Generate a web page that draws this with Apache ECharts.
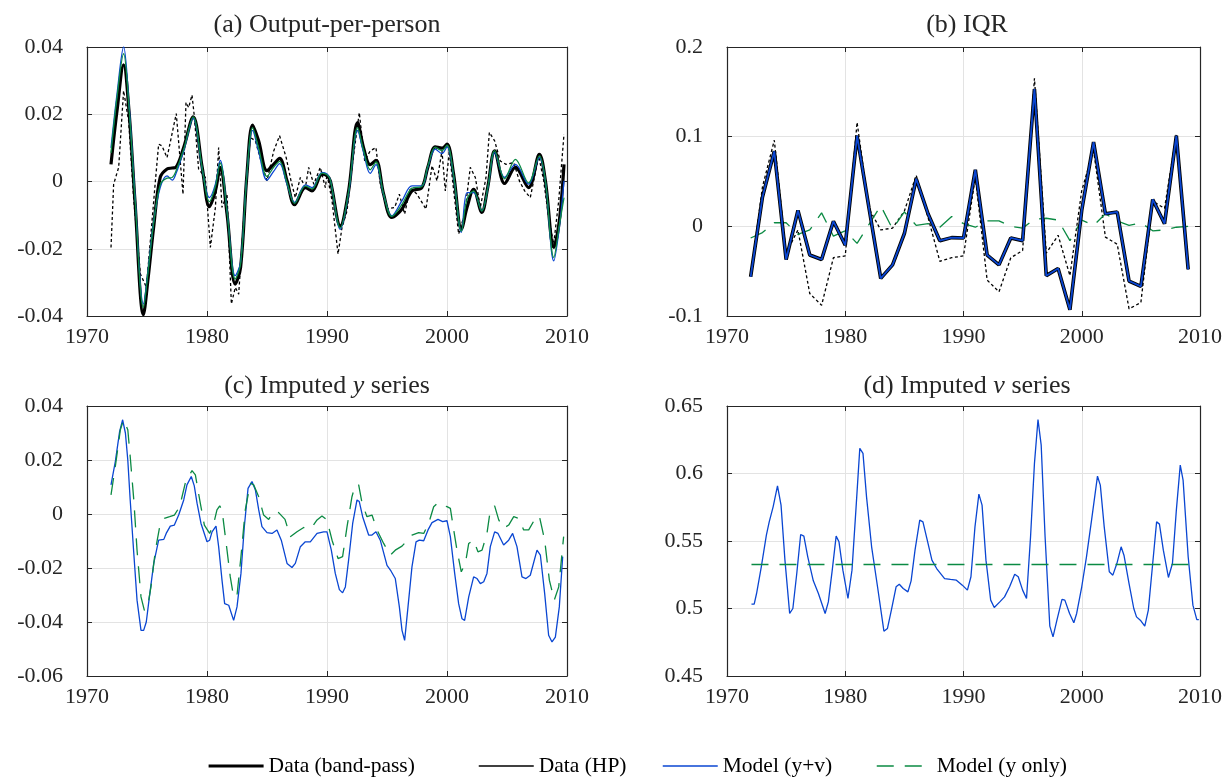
<!DOCTYPE html>
<html>
<head>
<meta charset="utf-8">
<script src="https://cdn.jsdelivr.net/npm/echarts@6/dist/echarts.min.js"></script>
<style>html,body{margin:0;padding:0;background:#fff}#c{width:1225px;height:779px}</style>
</head>
<body>
<div id="c"></div>
<script>
// ---------- Panel (a): Output-per-person (quarterly, read at turning points) ----------
const aYears = [1972.0,1972.5,1973.05,1973.5,1974.0,1974.7,1975.1,1975.55,1976.1,1976.67,1977.1,1977.4,1978.05,1978.85,1979.6,1980.2,1980.7,1981.1,1981.67,1982.35,1982.8,1983.33,1983.8,1984.3,1985.0,1985.55,1986.05,1986.67,1987.3,1988.2,1988.75,1989.6,1990.0,1990.28,1991.11,1991.8,1992.55,1993.05,1993.6,1994.08,1994.72,1995.4,1996.25,1997.08,1997.9,1998.4,1999.03,1999.58,2000.0,2000.55,2001.2,2001.67,2002.22,2002.9,2003.39,2003.97,2004.8,2005.7,2006.8,2007.7,2008.2,2008.9,2009.36,2009.75];
const aBandPass = [0.0051,0.021,0.0347,0.021,-0.006,-0.0396,-0.0285,-0.0137,0.0012,0.0037,0.0040,0.0042,0.010,0.0192,0.0042,-0.0075,-0.0028,0.0042,-0.0097,-0.0305,-0.0255,0.0022,0.0168,0.0121,0.0032,0.0051,0.0069,0.0002,-0.0069,-0.0018,-0.0028,0.0022,0.0017,0.0002,-0.0132,-0.0028,0.0175,0.010,0.005,0.0063,-0.0038,-0.0107,-0.0082,-0.0028,-0.0018,0.0042,0.0103,0.0099,0.0111,0.0022,-0.0142,-0.0077,-0.0023,-0.0092,-0.0018,0.0091,-0.0006,0.0042,-0.0018,0.0081,0.0002,-0.0196,-0.0117,0.0051];
const aModelYV = [0.010,0.026,0.040,0.023,-0.004,-0.0364,-0.026,-0.012,-0.0018,0.0017,0.0004,0.0022,0.009,0.0188,0.0037,-0.0048,-0.0008,0.0063,-0.0087,-0.028,-0.024,0.0022,0.0152,0.009,0.0004,0.003,0.0053,-0.0008,-0.0062,-0.001,-0.0018,0.0027,0.0022,0.0005,-0.0142,-0.0035,0.0152,0.0086,0.0024,0.005,-0.004,-0.0102,-0.0057,-0.0013,-0.0013,0.0042,0.0096,0.0083,0.0103,0.0015,-0.0151,-0.0033,-0.0033,-0.0087,-0.0022,0.0086,0.0012,0.0051,-0.0008,0.0071,0.0,-0.0236,-0.0137,0.0002];
const aModelY = [0.0085,0.025,0.038,0.022,-0.005,-0.0375,-0.0265,-0.0125,-0.001,0.001,0.0012,0.003,0.0095,0.0192,0.004,-0.006,-0.0015,0.0055,-0.009,-0.029,-0.0245,0.0022,0.016,0.010,0.0015,0.0042,0.006,-0.0003,-0.0065,-0.0014,-0.0022,0.0025,0.002,0.0004,-0.0138,-0.003,0.016,0.0093,0.0035,0.0058,-0.0038,-0.0104,-0.0068,-0.002,-0.0015,0.0045,0.0102,0.0092,0.0108,0.0018,-0.0148,-0.0052,-0.0028,-0.0088,-0.002,0.0092,0.0008,0.0066,-0.0004,0.0076,0.0002,-0.0226,-0.013,-0.0048];
const aHPYears = [1972.0,1972.22,1972.64,1973.05,1973.47,1973.9,1974.45,1974.95,1975.28,1975.7,1975.97,1976.25,1976.67,1977.44,1978.0,1978.25,1978.47,1978.75,1978.94,1979.3,1979.86,1980.28,1980.7,1980.97,1981.25,1981.67,1982.03,1982.36,1982.64,1983.05,1983.6,1984.03,1984.58,1985.0,1985.56,1986.05,1986.6,1987.0,1987.36,1987.78,1988.2,1988.47,1988.9,1989.44,1989.86,1990.0,1990.42,1990.92,1991.25,1991.67,1992.08,1992.69,1993.14,1993.6,1994.08,1994.44,1995.0,1995.64,1996.03,1996.47,1996.94,1997.5,1998.25,1998.75,1999.17,1999.58,1999.86,2000.19,2000.56,2000.97,2001.47,2001.94,2002.36,2002.78,2003.25,2003.53,2003.97,2004.44,2004.92,2005.56,2006.03,2006.47,2006.94,2007.64,2008.06,2008.47,2008.89,2009.31,2009.75];
const aHP = [-0.0196,-0.0008,0.0042,0.027,0.018,-0.0057,-0.0275,-0.0315,-0.0176,0.0002,0.0111,0.0106,0.0071,0.0202,-0.0038,0.0235,0.022,0.0257,0.0195,0.0037,0.0012,-0.0196,-0.0077,0.0101,-0.0077,-0.0038,-0.0364,-0.0315,-0.0335,-0.0117,0.0131,0.0121,0.0051,0.0002,0.0091,0.0136,0.0071,0.0002,-0.0048,0.0012,-0.0018,0.0042,-0.0008,0.0042,-0.0018,0.0022,-0.0057,-0.0216,-0.0137,-0.0087,0.0042,0.0205,0.0061,0.0091,0.0101,-0.0008,-0.0082,-0.0077,-0.0038,-0.0097,-0.0018,-0.0038,-0.0082,0.0047,0.0002,0.0091,-0.0028,0.0091,-0.0028,-0.0156,-0.0097,0.0042,0.0012,-0.0077,0.0012,0.0146,0.0121,0.0061,0.0051,0.0056,0.0002,-0.0028,-0.0048,0.0076,0.0002,-0.0107,-0.0186,-0.0057,0.0141];

// ---------- Panel (b): IQR (annual) ----------
const bYears = [1972,1973,1974,1975,1976,1977,1978,1979,1980,1981,1982,1983,1984,1985,1986,1987,1988,1989,1990,1991,1992,1993,1994,1995,1996,1997,1998,1999,2000,2001,2002,2003,2004,2005,2006,2007,2008,2009];
const bBandPass = [-0.0563,0.0326,0.0837,-0.037,0.0178,-0.032,-0.037,0.0056,-0.021,0.101,0.021,-0.058,-0.043,-0.008,0.053,0.014,-0.016,-0.0126,-0.013,0.063,-0.032,-0.043,-0.013,-0.016,0.153,-0.055,-0.047,-0.093,0.018,0.094,0.014,0.016,-0.061,-0.067,0.030,0.003,0.101,-0.048];
const bModelYV = [-0.0563,0.0326,0.0837,-0.037,0.0178,-0.032,-0.037,0.0056,-0.021,0.101,0.021,-0.058,-0.043,-0.008,0.053,0.014,-0.016,-0.0126,-0.013,0.063,-0.032,-0.043,-0.013,-0.016,0.153,-0.055,-0.047,-0.093,0.018,0.094,0.014,0.016,-0.061,-0.067,0.030,0.003,0.101,-0.048];
const bHP = [-0.056,0.044,0.096,-0.03,-0.004,-0.075,-0.088,-0.035,-0.033,0.116,0.02,-0.004,-0.002,0.017,0.057,0.01,-0.039,-0.035,-0.033,0.055,-0.06,-0.073,-0.035,-0.027,0.165,-0.03,-0.01,-0.055,0.04,0.085,-0.012,-0.02,-0.092,-0.085,0.028,0.02,0.103,-0.048];
const bModelY = [-0.013,-0.007,0.004,0.004,-0.009,-0.004,0.015,-0.011,-0.005,-0.019,0.002,0.023,-0.003,0.016,0.001,0.003,-0.001,0.011,0.003,-0.001,0.006,0.006,0.0,-0.002,0.008,0.009,0.007,-0.016,0.007,0.001,0.014,0.006,0.001,0.004,-0.005,-0.004,-0.001,0.0];

// ---------- Panel (c): Imputed y series ----------
const cYVYears = [1972.0,1972.36,1972.72,1972.97,1973.2,1973.4,1973.6,1973.9,1974.17,1974.5,1974.72,1974.94,1975.2,1975.56,1975.97,1976.4,1976.6,1976.94,1977.28,1977.64,1978.06,1978.33,1978.69,1978.94,1979.17,1979.5,1980.0,1980.22,1980.42,1980.75,1980.97,1981.25,1981.47,1981.81,1982.22,1982.5,1982.83,1983.11,1983.42,1983.75,1984.03,1984.31,1984.58,1985.0,1985.42,1985.83,1986.19,1986.67,1987.08,1987.36,1987.78,1988.19,1988.61,1989.17,1989.72,1990.0,1990.36,1990.69,1991.03,1991.3,1991.53,1991.8,1992.14,1992.5,1992.69,1992.97,1993.47,1993.75,1994.08,1994.44,1995.0,1995.33,1995.69,1996.03,1996.25,1996.47,1996.75,1997.08,1997.42,1997.69,1998.06,1998.42,1998.75,1999.25,1999.64,2000.0,2000.28,2000.64,2000.97,2001.25,2001.47,2001.81,2002.22,2002.5,2002.78,2003.06,2003.33,2003.61,2003.97,2004.25,2004.72,2005.14,2005.47,2005.83,2006.25,2006.58,2006.94,2007.5,2007.78,2008.14,2008.47,2008.75,2009.03,2009.36,2009.64];
const cModelYV = [0.0108,0.0194,0.0306,0.0349,0.030,0.020,0.0052,-0.0146,-0.0319,-0.0431,-0.0431,-0.040,-0.0307,-0.0183,-0.0097,-0.0094,-0.0072,-0.0045,-0.0041,-0.0004,0.0052,0.0108,0.0139,0.0104,0.004,-0.0035,-0.0103,-0.0097,-0.0066,-0.0045,-0.0121,-0.0245,-0.0332,-0.0338,-0.0394,-0.0344,-0.022,-0.0047,0.0095,0.012,0.0089,0.0015,-0.0047,-0.0069,-0.0072,-0.0059,-0.0097,-0.0183,-0.0198,-0.0183,-0.0121,-0.0103,-0.0103,-0.0072,-0.0066,-0.0066,-0.0134,-0.022,-0.028,-0.0292,-0.027,-0.0171,-0.0035,0.0052,0.0046,-0.001,-0.0078,-0.0078,-0.0066,-0.0097,-0.019,-0.0211,-0.0239,-0.0344,-0.0431,-0.0468,-0.0344,-0.0196,-0.0103,-0.0097,-0.0099,-0.0059,-0.0032,-0.002,-0.0028,-0.0025,-0.0084,-0.022,-0.0332,-0.0388,-0.0394,-0.0307,-0.0233,-0.0239,-0.0258,-0.0251,-0.022,-0.0121,-0.0066,-0.0072,-0.0115,-0.0097,-0.0072,-0.0121,-0.0233,-0.0239,-0.0227,-0.0134,-0.0152,-0.0295,-0.0449,-0.0474,-0.0456,-0.0344,-0.0158];
const cYYears = [1972.0,1972.36,1972.78,1973.05,1973.4,1973.6,1973.9,1974.17,1974.5,1974.78,1975.05,1975.33,1975.7,1976.06,1976.44,1976.89,1977.28,1977.72,1978.19,1978.75,1979.03,1979.44,1979.78,1980.22,1980.56,1980.83,1981.06,1981.25,1981.6,1981.94,1982.22,1982.5,1982.83,1983.19,1983.61,1983.89,1984.31,1984.72,1985.14,1985.56,1985.97,1986.5,1986.94,1987.5,1988.06,1988.67,1989.17,1989.58,1990.0,1990.42,1990.92,1991.3,1991.67,1992.08,1992.36,1992.64,1992.92,1993.33,1993.75,1994.17,1994.72,1995.28,1995.69,1996.25,1997.08,1997.64,1998.06,1998.47,1998.89,1999.25,1999.58,2000.0,2000.28,2000.56,2000.83,2001.19,2001.53,2001.81,2002.22,2002.58,2002.92,2003.33,2003.61,2003.97,2004.31,2004.72,2005.14,2005.56,2005.97,2006.39,2006.81,2007.36,2007.69,2008.14,2008.53,2008.94,2009.31,2009.72];
const cModelY = [0.0071,0.0176,0.0312,0.0349,0.0312,0.0213,0.0052,-0.0134,-0.0307,-0.0357,-0.0344,-0.027,-0.0134,-0.0047,-0.0016,-0.001,-0.0004,0.0027,0.0114,0.0161,0.0145,0.004,-0.0041,-0.0072,-0.0035,0.0015,0.003,0.0015,-0.0109,-0.0233,-0.0307,-0.0301,-0.0158,0.0015,0.0114,0.0108,0.0064,-0.0004,-0.002,0.0009,0.0005,-0.002,-0.0084,-0.0066,-0.005,-0.0053,-0.0022,-0.0007,-0.0022,-0.0097,-0.0165,-0.0158,-0.0047,0.0064,0.0108,0.0108,0.004,-0.001,-0.0004,-0.0059,-0.0109,-0.0152,-0.0134,-0.0119,-0.0078,-0.0069,-0.0072,-0.0035,0.0027,0.0042,0.0033,0.0027,0.0021,-0.0059,-0.0134,-0.0214,-0.0183,-0.0109,-0.0097,-0.014,-0.0134,-0.0072,0.0015,0.003,-0.0022,-0.0053,-0.0041,-0.001,-0.0016,-0.0059,-0.0059,-0.0016,-0.0007,-0.0097,-0.0245,-0.0319,-0.027,-0.0084];

// ---------- Panel (d): Imputed v series ----------
const dYVYears = [1972.07,1972.3,1972.5,1972.9,1973.33,1973.57,1973.9,1974.27,1974.57,1974.9,1975.3,1975.57,1975.9,1976.23,1976.5,1976.83,1977.3,1977.73,1978.3,1978.57,1978.9,1979.23,1979.47,1979.8,1980.23,1980.57,1980.9,1981.23,1981.5,1981.8,1982.23,1982.73,1983.27,1983.57,1983.9,1984.3,1984.57,1984.9,1985.3,1985.57,1985.9,1986.3,1986.57,1986.9,1987.33,1987.73,1988.4,1988.9,1989.4,1989.9,1990.33,1990.63,1990.97,1991.3,1991.57,1991.9,1992.3,1992.6,1993.07,1993.47,1993.9,1994.33,1994.63,1995.0,1995.33,1995.67,1996.0,1996.3,1996.57,1996.9,1997.3,1997.57,1997.9,1998.33,1998.57,1998.97,1999.33,1999.57,2000.0,2000.4,2000.83,2001.33,2001.57,2001.9,2002.33,2002.63,2002.97,2003.33,2003.57,2004.0,2004.4,2004.63,2005.0,2005.33,2005.63,2006.0,2006.33,2006.57,2006.9,2007.33,2007.67,2008.0,2008.33,2008.57,2009.0,2009.4,2009.73,2009.9];
const dModelYV = [0.5032,0.5032,0.5111,0.5309,0.5543,0.5642,0.5753,0.5909,0.5766,0.5358,0.4963,0.500,0.5259,0.5548,0.5536,0.5383,0.5205,0.5111,0.4963,0.5049,0.5284,0.5536,0.5494,0.5284,0.5074,0.5284,0.5729,0.6186,0.6149,0.5827,0.5457,0.5161,0.4832,0.4852,0.4988,0.5161,0.518,0.5148,0.5123,0.5205,0.5432,0.5655,0.5642,0.5519,0.5358,0.5296,0.5222,0.5215,0.521,0.5173,0.5136,0.5235,0.5605,0.5847,0.5766,0.5358,0.5062,0.5007,0.5049,0.5086,0.5161,0.5254,0.5235,0.5136,0.5074,0.5531,0.6075,0.640,0.621,0.5531,0.4869,0.479,0.4914,0.5067,0.5062,0.4963,0.4894,0.4963,0.5161,0.5383,0.5655,0.598,0.5914,0.5605,0.5272,0.5247,0.5333,0.5457,0.5395,0.5185,0.500,0.4938,0.4909,0.4869,0.4988,0.5333,0.5642,0.5625,0.5432,0.523,0.5333,0.5729,0.6062,0.5951,0.5383,0.5025,0.4918,0.4918];
const dYYears = [1972.07,2009.9];
const dModelY = [0.5326,0.5326];

// ---------- Labels ----------
const seriesNames = ['Data (band-pass)','Data (HP)','Model (y+v)','Model (y only)'];
const panelTitles = ['(a) Output-per-person','(b) IQR','(c) Imputed {i|y} series','(d) Imputed {i|v} series'];

// ---------- Styling ----------
const FONT = 'Liberation Serif';
const INK = '#262626';
const BLUE = '#0a46d2';
const GREEN = '#0b8a43';
const pairs = (xs, ys) => xs.map((x, i) => [x, ys[i]]);

const grids = [
  {left: 87, top: 47, width: 480, height: 269},
  {left: 727, top: 47, width: 480, height: 269},
  {left: 87, top: 406, width: 480, height: 270},
  {left: 727, top: 406, width: 480, height: 270}
];
const yRanges = [[-0.04, 0.04, 0.02], [-0.1, 0.2, 0.1], [-0.06, 0.04, 0.02], [0.45, 0.65, 0.05]];

const xAxes = [], yAxes = [];
const axisLineStyle = {show: true, onZero: false, lineStyle: {color: INK, width: 1.2}};
const tickStyle = {show: true, inside: true, length: 5, lineStyle: {color: INK, width: 1}};
grids.forEach((g, i) => {
  const common = {type: 'value', gridIndex: i, min: 1970, max: 2010, interval: 10,
    axisLine: axisLineStyle, axisTick: tickStyle};
  xAxes.push(Object.assign({}, common, {position: 'bottom',
    axisLabel: {show: true, margin: 10, fontFamily: FONT, fontSize: 22, color: INK, formatter: v => String(v)},
    splitLine: {show: true, lineStyle: {color: '#e3e3e3', width: 1}}}));
  xAxes.push(Object.assign({}, common, {position: 'top', axisLabel: {show: false}, splitLine: {show: false}}));
  const [mn, mx, iv] = yRanges[i];
  const yc = {type: 'value', gridIndex: i, min: mn, max: mx, interval: iv,
    axisLine: axisLineStyle, axisTick: tickStyle};
  yAxes.push(Object.assign({}, yc, {position: 'left',
    axisLabel: {show: true, margin: 24, fontFamily: FONT, fontSize: 22, color: INK},
    splitLine: {show: true, lineStyle: {color: '#e3e3e3', width: 1}}}));
  yAxes.push(Object.assign({}, yc, {position: 'right', axisLabel: {show: false}, splitLine: {show: false}}));
});

function line(name, panel, data, style, smooth) {
  return {type: 'line', name, xAxisIndex: panel * 2, yAxisIndex: panel * 2, data,
    showSymbol: false, symbol: 'none', smooth: smooth || false, silent: true, animation: false,
    color: style.color, itemStyle: {color: style.color},
    lineStyle: style, emphasis: {disabled: true}};
}
const sBand = {color: '#000', width: 3.2};
const sHP = {color: '#000', width: 1.3, type: [3, 2.5]};
const sBlue = {color: BLUE, width: 1.3};
const sGreenSolid = {color: GREEN, width: 1.3};
const sGreenDash = {color: GREEN, width: 1.3, type: [17, 11]};

const series = [
  // (a)
  line(seriesNames[1], 0, pairs(aHPYears, aHP), sHP),
  line(seriesNames[0], 0, pairs(aYears, aBandPass), sBand, 0.35),
  line(seriesNames[2], 0, pairs(aYears, aModelYV), sBlue, 0.35),
  line(seriesNames[3], 0, pairs(aYears, aModelY), sGreenSolid, 0.35),
  // (b)
  line(seriesNames[1], 1, pairs(bYears, bHP), sHP),
  line(seriesNames[3], 1, pairs(bYears, bModelY), sGreenDash),
  line(seriesNames[0], 1, pairs(bYears, bBandPass), {color: '#000', width: 3.6}),
  line(seriesNames[2], 1, pairs(bYears, bModelYV), {color: BLUE, width: 1.8}),
  // (c)
  line(seriesNames[2], 2, pairs(cYVYears, cModelYV), sBlue),
  line(seriesNames[3], 2, pairs(cYYears, cModelY), sGreenDash),
  // (d)
  line(seriesNames[2], 3, pairs(dYVYears, dModelYV), sBlue),
  line(seriesNames[3], 3, pairs(dYYears, dModelY), sGreenDash)
];

const legendStyles = [
  {lineStyle: {color: '#000', width: 3.2, type: 'solid', opacity: 1}},
  {lineStyle: {color: '#000', width: 1.5, type: 'solid', opacity: 1}},
  {lineStyle: {color: BLUE, width: 1.5, type: 'solid', opacity: 1}},
  {lineStyle: {color: GREEN, width: 1.5, type: [17, 11], opacity: 1}}
];
const legendTextLeft = [267, 538, 722, 936];
const legends = seriesNames.map((n, i) => ({
  show: true, top: 755, left: legendTextLeft[i] - 60, itemWidth: 55, itemHeight: 14,
  selectedMode: false, padding: 0,
  textStyle: {fontFamily: FONT, fontSize: 21.5, color: '#000'},
  data: [Object.assign({name: n, itemStyle: {opacity: 0}}, legendStyles[i])]
}));

const titlePos = [[327, 25], [967, 25], [327, 386], [967, 386]];
const graphic = panelTitles.map((t, i) => ({
  type: 'text', x: titlePos[i][0], y: titlePos[i][1], silent: true,
  style: {text: t, fill: INK, fontFamily: FONT, fontSize: 26, align: 'center', verticalAlign: 'middle',
    rich: {i: {fontStyle: 'italic', fontFamily: FONT, fontSize: 26, fill: INK}}}
}));

const chart = echarts.init(document.getElementById('c'), null, {renderer: 'canvas'});
chart.setOption({
  animation: false,
  backgroundColor: '#fff',
  grid: grids,
  xAxis: xAxes,
  yAxis: yAxes,
  legend: legends,
  graphic: graphic,
  series: series
});
</script>
</body>
</html>
